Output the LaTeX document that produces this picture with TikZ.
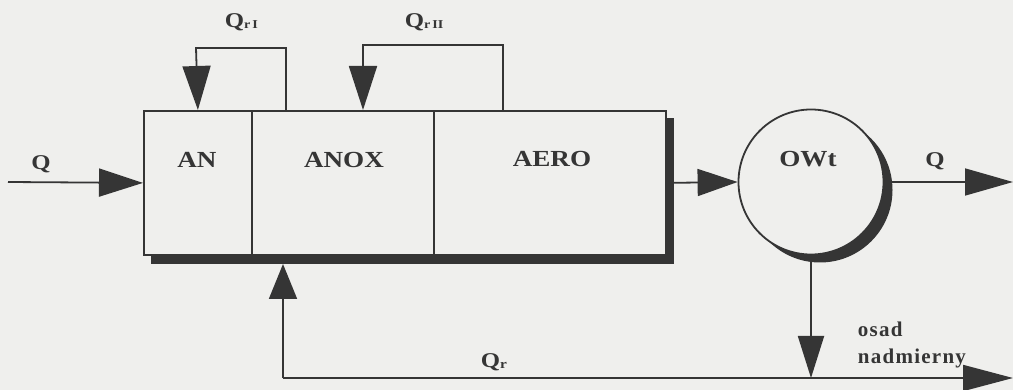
\documentclass[tikz,border=0pt]{standalone}
\usepackage{fontspec}
\setmainfont{Liberation Serif}
\newfontfamily\spacedfont[LetterSpace=6]{Liberation Serif}
\newfontfamily\widefont[FakeStretch=1.18]{Liberation Serif}
\usetikzlibrary{arrows.meta,calc}
\definecolor{bg}{HTML}{EFEFED}
\definecolor{ink}{HTML}{353535}
\begin{document}
\begin{tikzpicture}[x=1pt,y=-1pt,line width=1.8pt,
  chamber/.style={draw=ink,fill=bg,minimum height=144pt,inner sep=0pt,anchor=north west},
  lbl/.style={text=ink,inner sep=0pt,anchor=base,font=\fontsize{23}{23}\selectfont\widefont\bfseries},
  qlbl/.style={text=ink,inner sep=0pt,anchor=base,font=\fontsize{21}{21}\selectfont\widefont\bfseries},
  sublbl/.style={text=ink,inner sep=0pt,anchor=base west,font=\fontsize{21}{21}\selectfont\spacedfont\bfseries},
  ah/.style={-{Triangle[length=44pt,width=28pt]}},
  ahs/.style={-{Triangle[length=40pt,width=27pt]}},
  line/.style={draw=ink}]
\useasboundingbox[fill=bg] (0,0) rectangle (1013,390);
% shadows
\fill[ink] (151,118) rectangle (674,264);
\fill[ink] (820,190) circle (72.5);
% chambers
\node[chamber,minimum width=108pt] (an) at (143,110) {};
\node[chamber,minimum width=182pt] (anox) at (251,110) {};
\node[chamber,minimum width=232pt] (aero) at (433,110) {};
\node[circle,draw=ink,fill=bg,minimum size=145pt,inner sep=0pt] (owt) at (811,182) {};
% labels
\node[lbl] (tan) at (197,168) {AN};
\node[lbl] (tanox) at (344,168) {ANOX};
\node[lbl] (taero) at (552,167) {AERO};
\node[lbl] (towt) at (808,167) {OWt};
\node[qlbl] (tqin) at (41,170) {Q};
\node[qlbl] (tqout) at (935,167) {Q};
\node[qlbl,anchor=base west] (tq1) at (224,28) {Q\raisebox{-1pt}{\fontsize{12}{12}\selectfont r\,I}};
\node[qlbl,anchor=base west] (tq2) at (404,28) {Q\raisebox{-1pt}{\fontsize{12}{12}\selectfont r\,II}};
\node[qlbl,anchor=base west] (tqr) at (480,367) {Q\raisebox{-1pt}{\fontsize{13}{13}\selectfont r}};
\node[sublbl] (tosad) at (857,337) {osad};
\node[sublbl] (tnadm) at (857,363) {nadmierny};
% coordinates
\coordinate (qin) at (8,182);
\coordinate (qout) at (1013,182);
\coordinate (l1a) at (286,110);
\coordinate (l1t) at (196,48);
\coordinate (l2a) at (503,110);
\coordinate (l2t) at (363,45);
\coordinate (l2b) at (363,110);
\coordinate (sb) at (283,264);
\coordinate (b1) at (283,378);
\coordinate (j) at (811,378);
\coordinate (bend) at (1013,378);
% connectors
\draw[line,ah] (qin) -- (an.west);
\draw[line,ahs] (aero.east) -- (owt.west);
\draw[line,-{Triangle[length=48pt,width=27pt]}] (owt.east) -- (qout);
\draw[line,-{Triangle[length=42pt,width=26pt]}] (owt.south) -- (j);
\draw[line,ah] (l1a) |- (l1t) -- (an.north);
\draw[line,ah] (l2a) |- (l2t) -- (l2b);
\draw[line,-{Triangle[length=35pt,width=28pt]}] (b1) -- (sb);
\draw[line,-{Triangle[length=50pt,width=26pt]}] (b1) -- (bend);
\end{tikzpicture}
\end{document}
